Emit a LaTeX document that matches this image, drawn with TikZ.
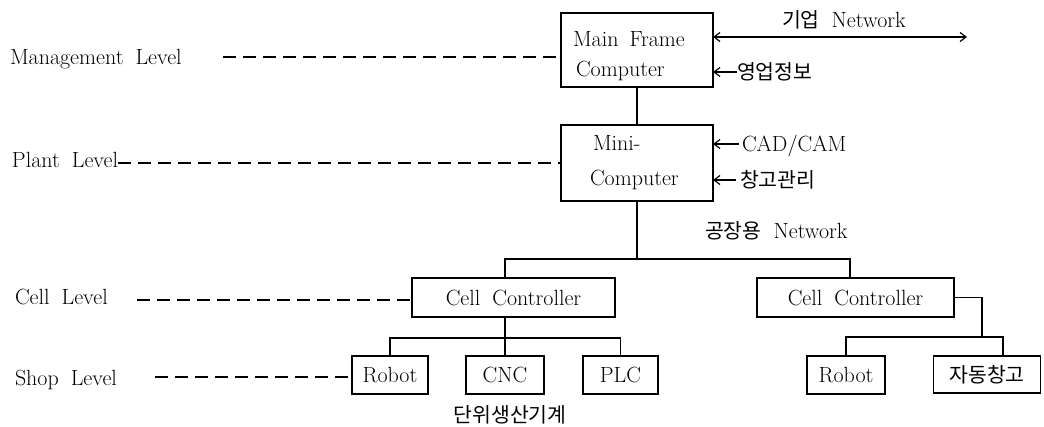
\documentclass[tikz,border=0pt]{standalone}
\usepackage{fontspec}
\newfontfamily\kr{Noto Sans CJK KR}
\usetikzlibrary{arrows.meta}
\newcommand\latf{\fontsize{22pt}{26pt}\selectfont\addfontfeatures{FakeBold=0.8}\spaceskip=12pt plus 2pt\relax}
\newcommand\krf{\fontsize{20.5pt}{25pt}\selectfont\kr}
\begin{document}
\begin{tikzpicture}[x=1pt,y=-1pt,
  box/.style={draw,line width=1.4pt,inner sep=0pt,outer sep=0pt,font=\latf},
  txt/.style={inner sep=0pt,outer sep=0pt,font=\latf,anchor=base west},
  lvtxt/.style={txt,font=\latf\addfontfeatures{LetterSpace=3}},
  ktxt/.style={inner sep=0pt,outer sep=0pt,font=\krf,anchor=west},
  conn/.style={line width=1.3pt},
  lvl/.style={line width=1.3pt,dash pattern=on 13pt off 7pt},
  arr/.style={line width=1.2pt,-{Straight Barb[length=6pt,width=9pt]}},
  darr/.style={line width=1.2pt,{Straight Barb[length=6pt,width=9pt]}-{Straight Barb[length=6pt,width=9pt]}}]
\useasboundingbox (0,0) rectangle (1044,427);
\fill[white] (0,0) rectangle (1044,427);

% boxes
\node[box,minimum width=152pt,minimum height=74pt] (main) at (637,50) {};
\node[box,minimum width=152pt,minimum height=76pt] (mini) at (637,163) {};
\node[box,minimum width=203pt,minimum height=39pt] (cellL) at (513.5,297.5) {Cell Controller};
\node[box,minimum width=197pt,minimum height=39pt] (cellR) at (855.5,297.5) {Cell Controller};
\node[box,minimum width=76pt,minimum height=38pt] (robotA) at (390,375) {Robot};
\node[box,minimum width=78pt,minimum height=38pt] (cnc) at (505,375) {CNC};
\node[box,minimum width=75pt,minimum height=38pt] (plc) at (620.5,375) {PLC};
\node[box,minimum width=78pt,minimum height=38pt] (robotB) at (846,375) {Robot};
\node[box,minimum width=107pt,minimum height=37pt,font=\krf] (store) at (987,374.5) {자동창고};

% box texts
\node[txt] (mainA) at (573,47) {\addfontfeatures{LetterSpace=5}Main\hspace{11pt}Frame};
\node[txt] (mainB) at (576,77) {Computer};
\node[txt] (miniA) at (593,151) {Mini-};
\node[txt] (miniB) at (590,186) {Computer};

% level labels
\node[lvtxt] (lvM) at (10,65) {Management Level};
\node[lvtxt] (lvP) at (12,168) {Plant Level};
\node[lvtxt] (lvC) at (15,305) {Cell Level};
\node[lvtxt] (lvS) at (15,385) {Shop Level};

% level dashed lines
\coordinate (dM) at (223,57);
\coordinate (dP) at (137,163);
\coordinate (dC) at (137,300);
\coordinate (dS) at (155,377);
\draw[lvl] (dM) -- (dM -| main.west);
\draw[lvl] (lvP.east |- dP) -- (dP -| mini.west);
\draw[lvl] (dC) -- (dC -| cellL.west);
\draw[lvl] (dS) -- (dS -| robotA.west);

% side inputs
\coordinate (netEnd) at (967,37);
\draw[darr] (netEnd -| main.east) -- (netEnd);
\node[txt] (net) at (782,28) {{\krf 기업} Network};
\node[ktxt] (sales) at (737,72) {영업정보};
\draw[arr] (sales.west) -- (sales.west -| main.east);
\coordinate (cadA) at (739,144);
\draw[arr] (cadA) -- (cadA -| mini.east);
\node[txt] (cad) at (742,152) {CAD/CAM};
\coordinate (whA) at (736,180);
\draw[arr] (whA) -- (whA -| mini.east);
\node[ktxt] (wh) at (740,180) {창고관리};
\node[txt] (fnet) at (705,239) {{\krf 공장용} Network};
\node[ktxt,anchor=center] (unit) at (510,415) {단위생산기계};

% tree
\draw[conn] (main.south) -- (mini.north);
\coordinate (busL) at (505,259);
\coordinate (busR) at (850,259);
\draw[conn] (mini.south) -- (mini.south |- busL);
\draw[conn] (busL |- cellL.north) -- (busL) -- (busR) -- (busR |- cellR.north);
\coordinate (busA) at (0,338);
\draw[conn] (cnc.north |- cellL.south) -- (cnc.north);
\draw[conn] (robotA.north) -- (robotA.north |- busA) -- (plc.north |- busA) -- (plc.north);
\coordinate (rc) at (982,337);
\coordinate (stx) at (1003,337);
\draw[conn] (cellR.east) -| (rc);
\draw[conn] (robotB.north) -- (robotB.north |- rc) -- (stx) -- (stx |- store.north);
\end{tikzpicture}
\end{document}
